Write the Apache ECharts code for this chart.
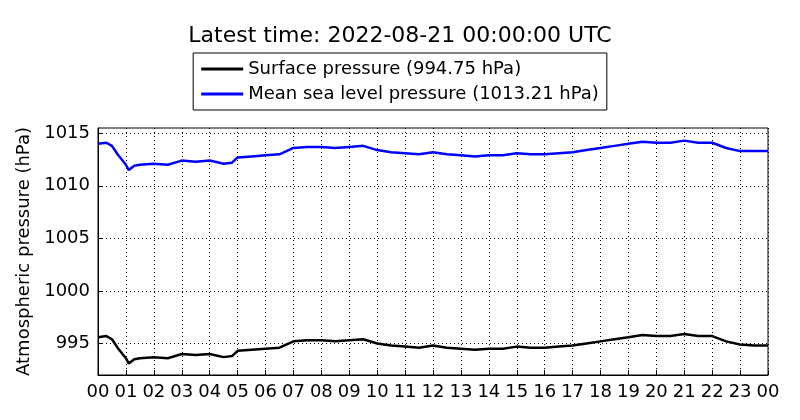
<!DOCTYPE html>
<html>
<head>
<meta charset="utf-8">
<script src="https://cdn.jsdelivr.net/npm/echarts@6/dist/echarts.min.js"></script>
<style>body{margin:0}#c{width:800px;height:420px}</style>
</head>
<body>
<div id="c"></div>
<script>
// hours since 2022-08-20 00:00 UTC
var hours = [0,0.3,0.5,0.7,1,1.1,1.3,1.5,2,2.5,3,3.5,4,4.5,4.8,5,5.5,6,6.5,7,7.5,8,8.5,9,9.5,10,10.5,11,11.5,12,12.5,13,13.5,14,14.5,15,15.5,16,16.5,17,17.5,18,18.5,19,19.5,20,20.5,21,21.5,22,22.5,23,23.5,24];
var mslp = [1014.0,1014.1,1013.8,1013.0,1012.0,1011.5,1011.9,1012.0,1012.1,1012.0,1012.4,1012.3,1012.4,1012.1,1012.2,1012.7,1012.8,1012.9,1013.0,1013.6,1013.7,1013.7,1013.6,1013.7,1013.8,1013.4,1013.2,1013.1,1013.0,1013.2,1013.0,1012.9,1012.8,1012.9,1012.9,1013.1,1013.0,1013.0,1013.1,1013.2,1013.4,1013.6,1013.8,1014.0,1014.2,1014.1,1014.1,1014.3,1014.1,1014.1,1013.6,1013.3,1013.3,1013.3];
var surface = [995.6,995.7,995.4,994.6,993.6,993.1,993.5,993.6,993.7,993.6,994.0,993.9,994.0,993.7,993.8,994.3,994.4,994.5,994.6,995.2,995.3,995.3,995.2,995.3,995.4,995.0,994.8,994.7,994.6,994.8,994.6,994.5,994.4,994.5,994.5,994.7,994.6,994.6,994.7,994.8,995.0,995.2,995.4,995.6,995.8,995.7,995.7,995.9,995.7,995.7,995.2,994.9,994.8,994.8];
var yTicks = [995,1000,1005,1010,1015];
var seriesNames = ['Surface pressure (994.75 hPa)', 'Mean sea level pressure (1013.21 hPa)'];

function pairs(ys){
    return hours.map(function(h,i){ return [h, ys[i]]; });
}

var chart = echarts.init(document.getElementById('c'));
var txt = {color:'#000', fontFamily:'DejaVu Sans', fontSize:18};
chart.setOption({
    animation:false,
    backgroundColor:'#fff',
    title:{text:'Latest time: 2022-08-21 00:00:00 UTC', left:'center', top:20,
        textStyle:{color:'#000', fontFamily:'DejaVu Sans', fontSize:22, fontWeight:'normal'}},
    legend:{orient:'vertical', left:'center', top:53, borderColor:'#000', borderWidth:1,
        padding:[7,8], itemGap:7, itemWidth:42, itemHeight:3, icon:'rect',
        textStyle:{color:'#000', fontFamily:'DejaVu Sans', fontSize:18},
        data:seriesNames},
    grid:{left:98, right:32, top:128, bottom:45, show:true, borderColor:'#000', borderWidth:1},
    xAxis:{type:'value', min:0, max:24, interval:1,
        axisLine:{lineStyle:{color:'#000'}}, axisTick:{inside:true, length:5, lineStyle:{color:'#000'}},
        axisLabel:Object.assign({margin:8, formatter:function(v){ var h=v%24; return (h<10?'0':'')+h; }}, txt),
        splitLine:{show:true, lineStyle:{color:'#000', type:[1,3], width:1}}},
    yAxis:{type:'value', min:992, max:1015.5,
        name:'Atmospheric pressure (hPa)', nameLocation:'middle', nameGap:62,
        nameTextStyle:txt,
        axisLine:{show:true, lineStyle:{color:'#000'}},
        axisTick:{inside:true, length:5, customValues:yTicks, lineStyle:{color:'#000'}},
        axisLabel:Object.assign({margin:8, customValues:yTicks, formatter:function(v){ return String(v); }}, txt),
        splitLine:{show:true, lineStyle:{color:'#000', type:[1,3], width:1}}},
    series:[
        {name:seriesNames[0], type:'line', data:pairs(surface), showSymbol:false,
            lineStyle:{color:'#000', width:2.5}, itemStyle:{color:'#000'}},
        {name:seriesNames[1], type:'line', data:pairs(mslp), showSymbol:false,
            lineStyle:{color:'#0000ff', width:2.5}, itemStyle:{color:'#0000ff'}}
    ]
});
</script>
</body>
</html>
